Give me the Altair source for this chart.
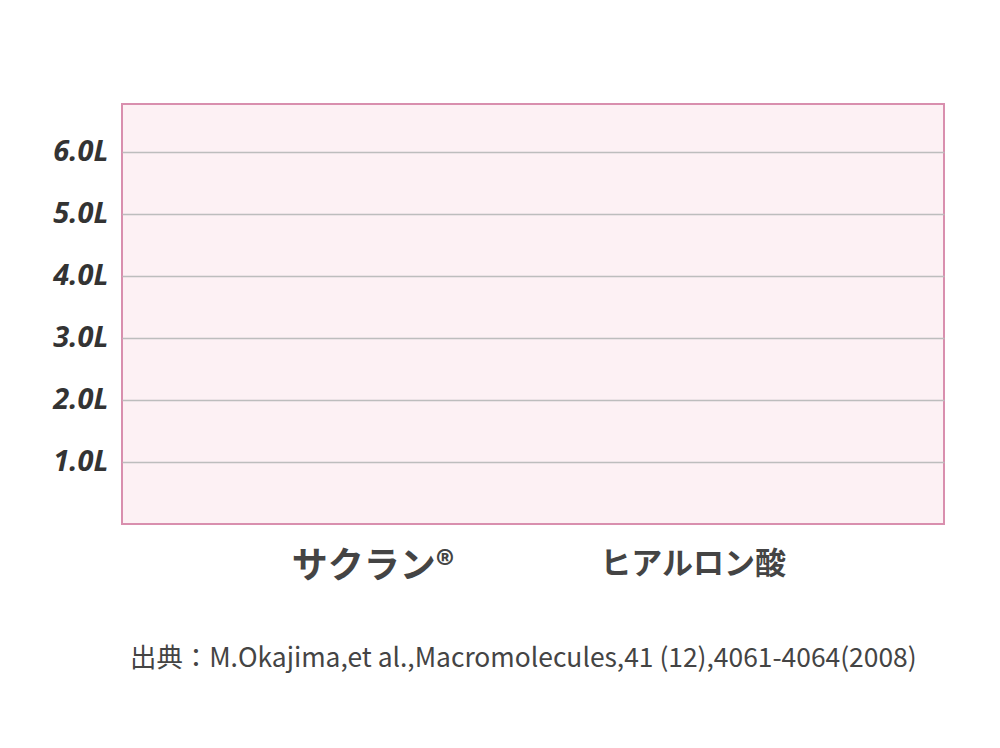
import altair as alt
import pandas as pd

categories = ["サクラン®", "ヒアルロン酸"]
values = [0.0, 0.0]
y_ticks = [1, 2, 3, 4, 5, 6]
source_note = "出典：M.Okajima,et al.,Macromolecules,41 (12),4061-4064(2008)"

df = pd.DataFrame({"category": categories, "value": values})

chart = alt.Chart(df).mark_bar(color="#e58fb0").encode(
    x=alt.X(
        "category:N",
        sort=categories,
        scale=alt.Scale(paddingInner=0.4, paddingOuter=0.484),
        axis=alt.Axis(
            title=None,
            ticks=False,
            domain=False,
            labelAngle=0,
            labelLimit=400,
            labelOverlap=False,
            labelFont="Noto Sans CJK JP",
            labelFontWeight="bold",
            labelFontSize=alt.expr("datum.value == 'サクラン®' ? 36 : 31"),
            labelColor="#444444",
            labelPadding=25,
        ),
    ),
    y=alt.Y(
        "value:Q",
        scale=alt.Scale(domain=[0, 6.77], nice=False),
        axis=alt.Axis(
            title=None,
            values=y_ticks,
            labelExpr="format(datum.value, '.1f') + 'L'",
            ticks=False,
            domain=False,
            grid=True,
            gridColor="#bdbdbd",
            gridWidth=1.5,
            labelFont="Open Sans",
            labelFontStyle="italic",
            labelFontWeight="bold",
            labelFontSize=29,
            labelColor="#333333",
            labelPadding=14,
        ),
    ),
).properties(
    width=822,
    height=420,
    title=alt.TitleParams(
        text=source_note,
        orient="bottom",
        anchor="start",
        frame="group",
        dx=8,
        offset=62,
        font="Noto Sans CJK JP",
        fontSize=26.4,
        fontWeight="normal",
        color="#444444",
        limit=900,
    ),
    padding={"left": 114, "top": 96, "right": 40, "bottom": 210},
    autosize=alt.AutoSizeParams(type="none"),
).configure_view(
    fill="#fdf1f4",
    stroke="#d98fae",
    strokeWidth=2,
)

chart.save("out.html", embed_options={"renderer": "svg", "actions": False})
